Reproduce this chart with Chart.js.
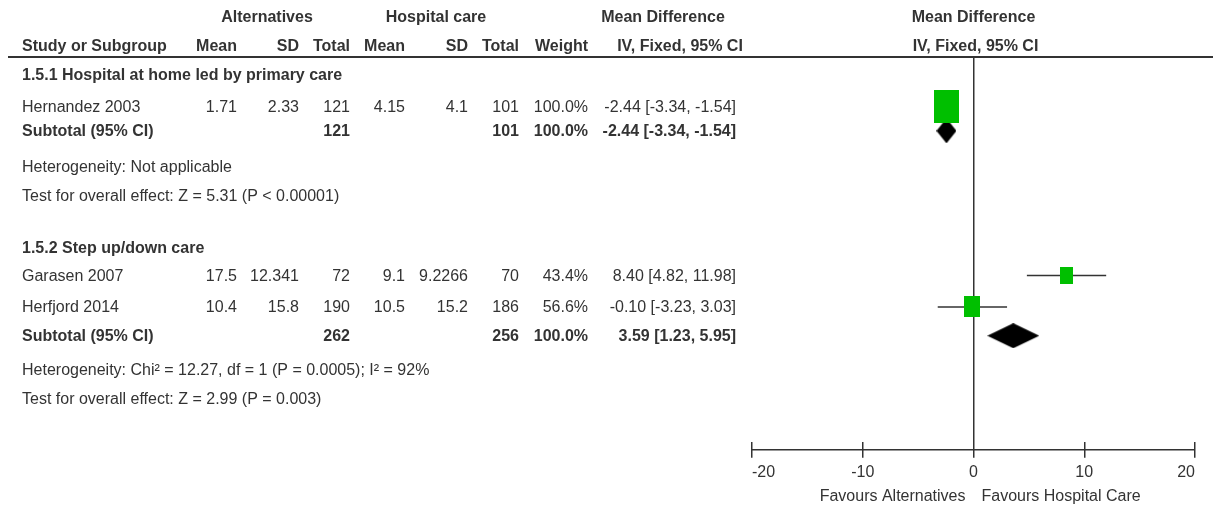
<!DOCTYPE html>
<html>
<head>
<meta charset="utf-8">
<script src="https://cdn.jsdelivr.net/npm/chart.js@4/dist/chart.umd.min.js"></script>
<style>
  body { margin: 0; background: #fff; }
  #wrap { width: 1213px; height: 509px; }
</style>
</head>
<body>
<div id="wrap"><canvas id="forest" width="1213" height="509"></canvas></div>
<script>
// study level data
const studies = ['Hernandez 2003', 'Garasen 2007', 'Herfjord 2014']
const altMean = [1.71, 17.5, 10.4]
const altSD = [2.33, 12.341, 15.8]
const altN = [121, 72, 190]
const hospMean = [4.15, 9.1, 10.5]
const hospSD = [4.1, 9.2266, 15.2]
const hospN = [101, 70, 186]
const weights = [100, 43.4, 56.6]
const md = [-2.44, 8.40, -0.10]
const ciLow = [-3.34, 4.82, -3.23]
const ciHigh = [-1.54, 11.98, 3.03]

// subgroups
const groups = ['1.5.1 Hospital at home led by primary care', '1.5.2 Step up/down care']
const subAltN = [121, 262]
const subHospN = [101, 256]
const subWeight = [100, 100]
const subMD = [-2.44, 3.59]
const subLow = [-3.34, 1.23]
const subHigh = [-1.54, 5.95]
const hetText = ['Heterogeneity: Not applicable', 'Heterogeneity: Chi\u00b2 = 12.27, df = 1 (P = 0.0005); I\u00b2 = 92%']
const testText = ['Test for overall effect: Z = 5.31 (P < 0.00001)', 'Test for overall effect: Z = 2.99 (P = 0.003)']

const xTicks = [-20, -10, 0, 10, 20]

// layout (row index of each line of the table)
const groupRow = [0, 5.93]
const studyRow = [1.08, 6.9, 7.98]
const subRow = [1.92, 8.97]
const hetRow = [3.14, 10.14]
const testRow = [4.14, 11.14]
const colRight = [237, 299, 350, 405, 468, 519, 588, 736]

const FONT = '"Liberation Sans", Arial, sans-serif'
const TXT = '#333'
const GREEN = '#00bf00'

function ciStr(m, l, h) {
  return m.toFixed(2) + ' [' + l.toFixed(2) + ', ' + h.toFixed(2) + ']'
}

function boxImg(w, h) {
  const c = document.createElement('canvas')
  c.width = w; c.height = h
  const g = c.getContext('2d')
  g.fillStyle = GREEN
  g.fillRect(0, 0, w, h)
  return c
}

function diamondImg(w, h) {
  const c = document.createElement('canvas')
  c.width = Math.max(2, Math.round(w)); c.height = h
  const g = c.getContext('2d')
  g.fillStyle = '#000'
  g.beginPath()
  g.moveTo(0, h / 2)
  g.lineTo(c.width / 2, 0)
  g.lineTo(c.width, h / 2)
  g.lineTo(c.width / 2, h)
  g.closePath()
  g.fill()
  return c
}

const tablePlugin = {
  id: 'table',
  afterDraw(chart) {
    const ctx = chart.ctx
    const ys = chart.scales.y
    const xs = chart.scales.x
    const area = chart.chartArea
    ctx.save()
    ctx.fillStyle = TXT
    ctx.textBaseline = 'middle'

    function txt(s, px, row, align, bold) {
      ctx.font = (bold ? 'bold ' : '') + '16px ' + FONT
      ctx.textAlign = align
      ctx.fillText(s, px, ys.getPixelForValue(row) + 1)
    }

    const zero = xs.getPixelForValue(0)

    // headers
    txt('Alternatives', 267, -2, 'center', true)
    txt('Hospital care', 436, -2, 'center', true)
    txt('Mean Difference', 663, -2, 'center', true)
    txt('Mean Difference', zero, -2, 'center', true)
    txt('Study or Subgroup', 22, -1, 'left', true)
    const heads = ['Mean', 'SD', 'Total', 'Mean', 'SD', 'Total', 'Weight']
    heads.forEach((h, i) => txt(h, colRight[i], -1, 'right', true))
    txt('IV, Fixed, 95% CI', 680, -1, 'center', true)
    txt('IV, Fixed, 95% CI', zero + 2, -1, 'center', true)

    ctx.strokeStyle = '#333'
    ctx.lineWidth = 2
    ctx.beginPath()
    ctx.moveTo(8, area.top)
    ctx.lineTo(chart.width, area.top)
    ctx.stroke()

    // group titles and studies
    groups.forEach((g, i) => {
      txt(g, 22, groupRow[i], 'left', true)
      txt('Subtotal (95% CI)', 22, subRow[i], 'left', true)
      txt(String(subAltN[i]), colRight[2], subRow[i], 'right', true)
      txt(String(subHospN[i]), colRight[5], subRow[i], 'right', true)
      txt(subWeight[i].toFixed(1) + '%', colRight[6], subRow[i], 'right', true)
      txt(ciStr(subMD[i], subLow[i], subHigh[i]), colRight[7], subRow[i], 'right', true)
      txt(hetText[i], 22, hetRow[i], 'left', false)
      txt(testText[i], 22, testRow[i], 'left', false)
    })
    studies.forEach((s, i) => {
      const r = studyRow[i]
      txt(s, 22, r, 'left', false)
      const vals = [altMean[i], altSD[i], altN[i], hospMean[i], hospSD[i], hospN[i]]
      vals.forEach((v, j) => txt(String(v), colRight[j], r, 'right', false))
      txt(weights[i].toFixed(1) + '%', colRight[6], r, 'right', false)
      txt(ciStr(md[i], ciLow[i], ciHigh[i]), colRight[7], r, 'right', false)
    })

    // axis line crossing the tick marks
    const ay = area.bottom + 8
    ctx.lineWidth = 1.5
    ctx.beginPath()
    ctx.moveTo(xs.getPixelForValue(xTicks[0]), ay)
    ctx.lineTo(xs.getPixelForValue(xTicks[xTicks.length - 1]), ay)
    ctx.stroke()

    // favours labels
    ctx.font = '16px ' + FONT
    ctx.textAlign = 'right'
    ctx.fillText('Favours Alternatives', zero - 8, 497)
    ctx.textAlign = 'left'
    ctx.fillText('Favours Hospital Care', zero + 8, 497)
    ctx.restore()
  }
}

const ciSets = studies.map((s, i) => ({
  label: s + ' CI',
  showLine: true,
  data: [{ x: ciLow[i], y: studyRow[i] }, { x: ciHigh[i], y: studyRow[i] }],
  borderColor: '#333',
  borderWidth: 1.5,
  pointRadius: 0
}))

const ctx = document.getElementById('forest')
new Chart(ctx, {
  type: 'scatter',
  data: {
    datasets: [
      {
        label: 'studies',
        data: studies.map((s, i) => ({ x: md[i], y: studyRow[i] })),
        pointStyle: (c) => {
          const w = Math.round(3.5 + 0.215 * weights[c.dataIndex])
          return boxImg(w, Math.round(w * 1.32))
        }
      },
      {
        label: 'subtotals',
        data: groups.map((g, i) => ({ x: subMD[i], y: subRow[i] })),
        pointStyle: (c) => {
          const xs = c.chart.scales.x
          const i = c.dataIndex
          return diamondImg(xs.getPixelForValue(subHigh[i]) - xs.getPixelForValue(subLow[i]), 25)
        }
      },
      ...ciSets
    ]
  },
  options: {
    responsive: false,
    animation: false,
    events: [],
    layout: { padding: { left: 752, right: 18, top: 57, bottom: 22 } },
    plugins: { legend: { display: false }, tooltip: { enabled: false } },
    scales: {
      x: {
        type: 'linear',
        min: xTicks[0],
        max: xTicks[xTicks.length - 1],
        afterBuildTicks: (axis) => { axis.ticks = xTicks.map(v => ({ value: v })) },
        border: { display: false },
        grid: {
          color: (c) => (c.tick && c.tick.value === 0 ? '#333' : 'rgba(0,0,0,0)'),
          tickColor: '#333',
          lineWidth: 1.5,
          tickLength: 16
        },
        ticks: {
          align: 'inner',
          padding: 5,
          color: TXT,
          font: { family: FONT, size: 16 }
        }
      },
      y: {
        type: 'linear',
        display: false,
        reverse: true,
        min: -0.62,
        max: 12.62
      }
    }
  },
  plugins: [tablePlugin]
})
</script>
</body>
</html>
